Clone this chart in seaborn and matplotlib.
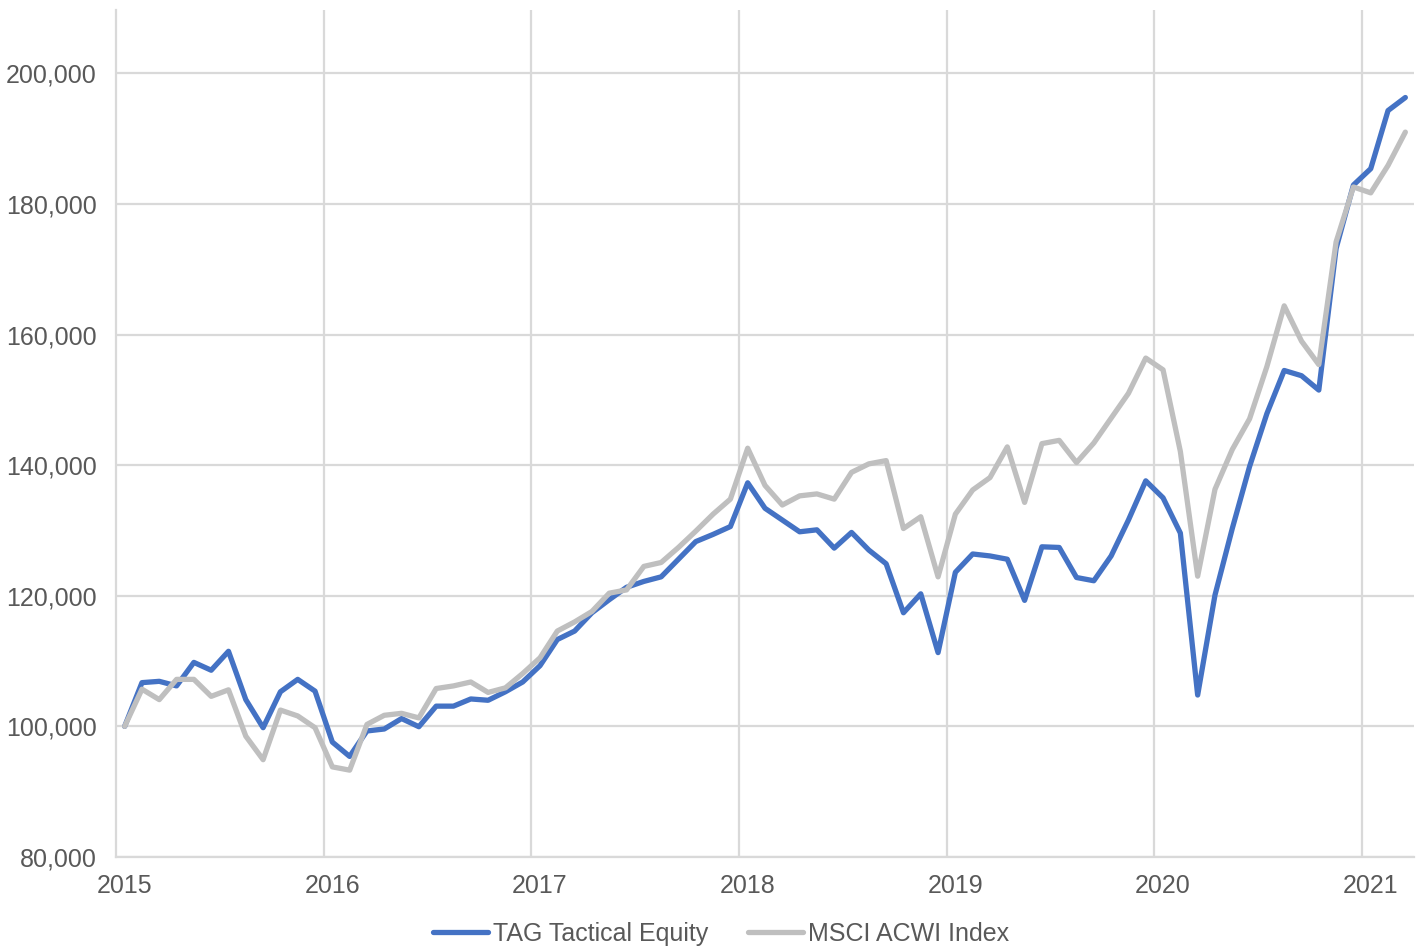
import numpy as np
import pandas as pd
import matplotlib
matplotlib.use("Agg")
import matplotlib.pyplot as plt
import seaborn as sns
from matplotlib.ticker import FuncFormatter

# monthly growth of 100,000, Jan 2015 .. Mar 2021
tag = [100.0, 106.7, 106.9, 106.2, 109.8, 108.6, 111.5, 104.1, 99.8, 105.3, 107.2, 105.4,
       97.6, 95.4, 99.3, 99.6, 101.2, 99.95, 103.1, 103.1, 104.2, 104.0, 105.3, 106.8,
       109.3, 113.3, 114.6, 117.4, 119.4, 121.3, 122.2, 122.9, 125.6, 128.3, 129.4, 130.6,
       137.3, 133.4, 131.6, 129.8, 130.1, 127.3, 129.7, 127.0, 124.9, 117.4, 120.3, 111.3,
       123.6, 126.4, 126.1, 125.6, 119.3, 127.5, 127.4, 122.8, 122.3, 126.1, 131.6, 137.6,
       135.0, 129.6, 104.8, 120.1, 130.3, 139.8, 147.9, 154.5, 153.7, 151.5,
       173.2, 182.9, 185.4, 194.3, 196.3]
acwi = [100.0, 105.7, 104.1, 107.2, 107.2, 104.6, 105.6, 98.5, 94.9, 102.5, 101.6, 99.8,
        93.8, 93.3, 100.3, 101.7, 102.0, 101.3, 105.8, 106.2, 106.8, 105.2, 105.9, 108.1,
        110.5, 114.6, 116.0, 117.6, 120.4, 120.9, 124.5, 125.1, 127.4, 129.9, 132.5, 134.8,
        142.6, 136.9, 133.9, 135.3, 135.6, 134.8, 138.9, 140.2, 140.7, 130.3, 132.1, 122.9,
        132.5, 136.2, 138.1, 142.8, 134.3, 143.3, 143.8, 140.4, 143.4, 147.2, 151.0, 156.4,
        154.6, 142.1, 123.0, 136.3, 142.4, 147.1, 155.1, 164.4, 159.0, 155.4,
        174.2, 182.6, 181.7, 185.9, 191.0]
years = ["2015", "2016", "2017", "2018", "2019", "2020", "2021"]
series_names = ["TAG Tactical Equity", "MSCI ACWI Index"]

n = len(tag)
df = pd.DataFrame({
    "month": list(range(n)) * 2,
    "value": [v * 1000 for v in tag] + [v * 1000 for v in acwi],
    "series": [series_names[0]] * n + [series_names[1]] * n,
})

sns.set_style("white")
plt.rcParams["font.family"] = ["Liberation Sans", "DejaVu Sans"]

fig = plt.figure(figsize=(14.21, 9.48), dpi=100)
ax = fig.add_axes([116 / 1421, 1 - 857 / 948, (1414 - 116) / 1421, (857 - 10) / 948])

grid_c = "#D9D9D9"
sns.lineplot(data=df, x="month", y="value", hue="series", hue_order=series_names,
             palette=["#4472C4", "#BFBFBF"], linewidth=3.8, ax=ax, legend=False,
             zorder=3)
ax.set_xlim(-0.5, n - 0.5)
ax.set_ylim(80000, 209700)
ax.set_yticks(np.arange(80000, 200001, 20000))
ax.yaxis.set_major_formatter(FuncFormatter(lambda v, p: f"{int(v):,}"))
ax.set_xticks(np.arange(0, n, 12))
ax.set_xticklabels(years)
ax.set_xticks(np.arange(-0.5, n, 12)[1:], minor=True)
ax.grid(False)
ax.grid(axis="y", which="major", color=grid_c, linewidth=1.6, zorder=0)
ax.grid(axis="x", which="minor", color=grid_c, linewidth=1.6, zorder=0)
ax.tick_params(axis="both", which="both", length=0, labelsize=18, colors="#595959")
ax.tick_params(axis="x", pad=12)
ax.tick_params(axis="y", pad=14)
ax.set_xlabel("")
ax.set_ylabel("")
for s in ["top", "right"]:
    ax.spines[s].set_visible(False)
for s in ["left", "bottom"]:
    ax.spines[s].set_color(grid_c)
    ax.spines[s].set_linewidth(1.6)

handles = [plt.Line2D([], [], color="#4472C4", linewidth=3.8, solid_capstyle="round"),
           plt.Line2D([], [], color="#BFBFBF", linewidth=3.8, solid_capstyle="round")]
fig.legend(handles, series_names, loc="center", bbox_to_anchor=(721 / 1421, 1 - 934 / 948),
           ncol=2, frameon=False, fontsize=18, labelcolor="#595959", handlelength=2.2,
           handletextpad=0.2, columnspacing=1.6, borderaxespad=0, borderpad=0)

fig.savefig("out.png", dpi=100)
